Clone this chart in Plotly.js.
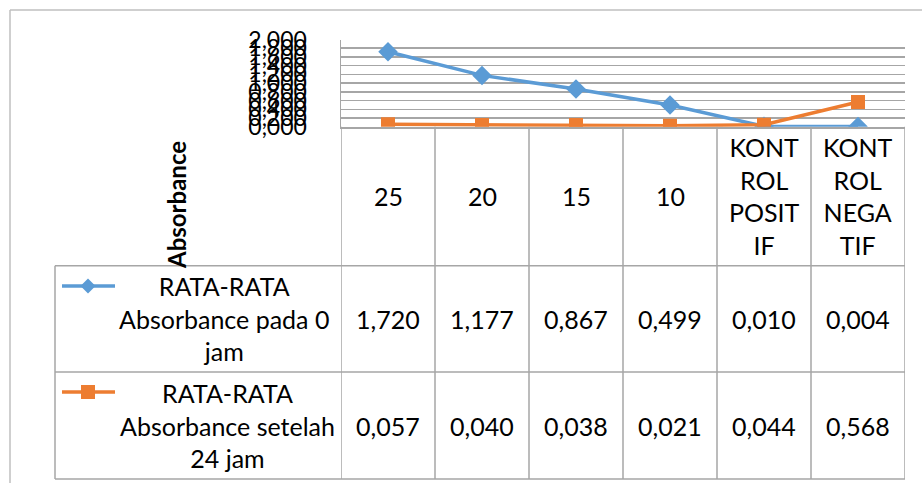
<!DOCTYPE html>
<html>
<head>
<meta charset="utf-8">
<script src="https://cdn.plot.ly/plotly-3.0.1.min.js"></script>
<style>html,body{margin:0;padding:0;background:#fff;}#chart{width:922px;height:483px;}</style>
</head>
<body>
<div id="chart"></div>
<script>
// ---- data ----
var categories = ['25', '20', '15', '10', 'KONTROL POSITIF', 'KONTROL NEGATIF'];
var headerLabels = ['25', '20', '15', '10', 'KONT<br>ROL<br>POSIT<br>IF', 'KONT<br>ROL<br>NEGA<br>TIF'];
var series0Name = 'RATA-RATA<br>Absorbance pada 0<br>jam';
var series0 = [1.720, 1.177, 0.867, 0.499, 0.010, 0.004];
var series1Name = 'RATA-RATA<br>Absorbance setelah<br>24 jam';
var series1 = [0.057, 0.040, 0.038, 0.021, 0.044, 0.568];
var yTitle = 'Absorbance';

// ---- geometry helpers (pixel -> paper) ----
var W = 922, H = 483;
function px(x) { return x / W; }
function py(y) { return (H - y) / H; }
var plotL = 341, plotR = 905, plotT = 39.5, axisY = 126.7;
var hdrB = 265.7, row1B = 372, row2B = 479, legL = 55;
var gridC = '#a6a6a6';
var blue = '#5b9bd5', orange = '#ed7d31';
var FONT = 'Lato, "Open Sans", sans-serif';
var TS = 25;

function fmt(v) { return v.toFixed(3).replace('.', ','); }

var traces = [
  { x: categories.map(function(c, i){ return i; }), y: series0, type: 'scatter', mode: 'lines+markers',
    line: { color: blue, width: 3.5 }, marker: { symbol: 'diamond', size: 15, color: blue }, showlegend: false, hoverinfo: 'skip' },
  { x: categories.map(function(c, i){ return i; }), y: series1, type: 'scatter', mode: 'lines+markers',
    line: { color: orange, width: 3.5 }, marker: { symbol: 'square', size: 14, color: orange }, showlegend: false, hoverinfo: 'skip' }
];

var shapes = [];
var annotations = [];
function pline(x0, y0, x1, y1, color, w) {
  shapes.push({ type: 'line', xref: 'paper', yref: 'paper', x0: px(x0), y0: py(y0), x1: px(x1), y1: py(y1),
    line: { color: color, width: w } });
}
// outer chart border
pline(10, 10, 922, 10, '#bfbfbf', 1.5);
pline(10, 10, 10, 483, '#bfbfbf', 1.5);
// table horizontal lines
pline(legL, hdrB, plotR, hdrB, gridC, 1.5);
pline(legL, row1B, plotR, row1B, gridC, 1.5);
pline(legL, row2B, plotR, row2B, gridC, 1.5);
pline(legL, hdrB, legL, row2B, gridC, 1.5);
// vertical column boundaries via x scale
for (var i = 0; i <= categories.length; i++) {
  shapes.push({ type: 'line', xref: 'x', yref: 'paper', x0: i - 0.5, x1: i - 0.5, y0: py(axisY), y1: py(row2B),
    line: { color: gridC, width: 1.5 } });
}
// header and value cells
var yHdr = py((axisY + hdrB) / 2), yR1 = py((hdrB + row1B) / 2), yR2 = py((row1B + row2B) / 2);
for (var j = 0; j < categories.length; j++) {
  annotations.push({ xref: 'x', yref: 'paper', x: j, y: yHdr, text: headerLabels[j], showarrow: false,
    xanchor: 'center', yanchor: 'middle', align: 'center', font: { family: FONT, size: TS, color: '#000' } });
  annotations.push({ xref: 'x', yref: 'paper', x: j, y: yR1, text: fmt(series0[j]), showarrow: false,
    xanchor: 'center', yanchor: 'middle', font: { family: FONT, size: TS, color: '#000' } });
  annotations.push({ xref: 'x', yref: 'paper', x: j, y: yR2, text: fmt(series1[j]), showarrow: false,
    xanchor: 'center', yanchor: 'middle', font: { family: FONT, size: TS, color: '#000' } });
}
// legend labels in table
annotations.push({ xref: 'paper', yref: 'paper', x: px(224), y: yR1, text: series0Name, showarrow: false,
  xanchor: 'center', yanchor: 'middle', align: 'center', font: { family: FONT, size: TS, color: '#000' } });
annotations.push({ xref: 'paper', yref: 'paper', x: px(227), y: yR2, text: series1Name, showarrow: false,
  xanchor: 'center', yanchor: 'middle', align: 'center', font: { family: FONT, size: TS, color: '#000' } });
// legend keys
pline(62, 286, 115, 286, blue, 3.5);
shapes.push({ type: 'path', xref: 'paper', yref: 'paper', fillcolor: blue, line: { color: blue, width: 0 },
  path: 'M' + px(88) + ',' + py(278.5) + ' L' + px(95.5) + ',' + py(286) + ' L' + px(88) + ',' + py(293.5) + ' L' + px(80.5) + ',' + py(286) + ' Z' });
pline(62, 392, 115, 392, orange, 3.5);
shapes.push({ type: 'rect', xref: 'paper', yref: 'paper', fillcolor: orange, line: { color: orange, width: 0 },
  x0: px(81), x1: px(95), y0: py(385), y1: py(399) });
// y axis title
annotations.push({ xref: 'paper', yref: 'paper', x: px(177), y: py(205), text: '<b>' + yTitle + '</b>', showarrow: false,
  textangle: -90, xanchor: 'center', yanchor: 'middle', font: { family: FONT, size: 24, color: '#000' } });

var layout = {
  width: W, height: H,
  margin: { l: 0, r: 0, t: 0, b: 0, pad: 0 },
  paper_bgcolor: '#fff', plot_bgcolor: '#fff',
  separators: ',.',
  xaxis: { type: 'linear', domain: [px(plotL), px(plotR)], range: [-0.5, categories.length - 0.5],
    showgrid: false, zeroline: false, showticklabels: false, ticks: '',
    showline: true, linecolor: gridC, linewidth: 2 },
  yaxis: { domain: [py(axisY), py(plotT)], range: [0, 2], tick0: 0, dtick: 0.2, tickformat: '.3f',
    showgrid: true, gridcolor: gridC, gridwidth: 1.5, zeroline: false,
    showline: true, linecolor: gridC, linewidth: 1.5, ticks: '', ticklabelstandoff: 28,
    tickfont: { family: FONT, size: 23, color: '#000' } },
  shapes: shapes,
  annotations: annotations,
  showlegend: false
};

Plotly.newPlot('chart', traces, layout, { displayModeBar: false, staticPlot: true });
</script>
</body>
</html>
